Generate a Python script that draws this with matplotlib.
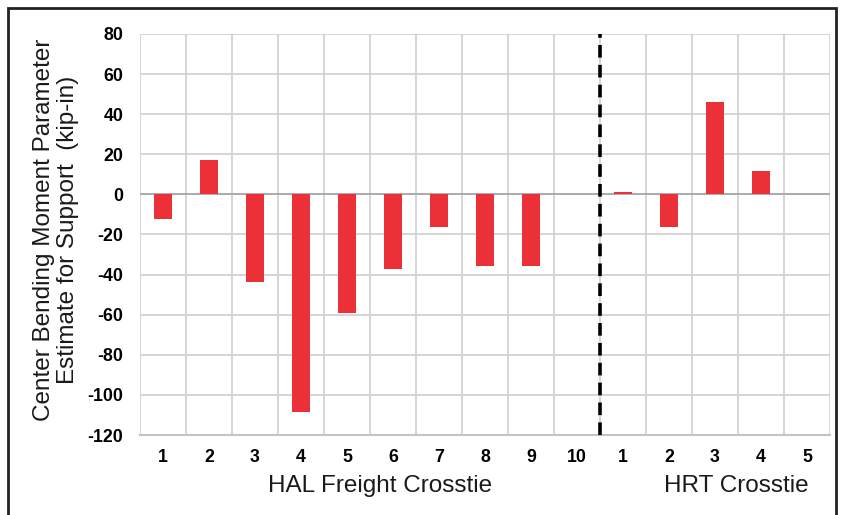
import matplotlib.pyplot as plt
import matplotlib.patches as mpatches
import numpy as np

# Support moment parameter estimates per crosstie
hal_labels = ["1", "2", "3", "4", "5", "6", "7", "8", "9", "10"]
hal_values = [-12.5, 17, -43.5, -108.3, -59, -37.3, -16.5, -35.8, -35.8, 0]
hrt_labels = ["1", "2", "3", "4", "5"]
hrt_values = [1, -16.2, 46.3, 11.9, 0]
yticks = [80, 60, 40, 20, 0, -20, -40, -60, -80, -100, -120]

labels = hal_labels + hrt_labels
values = hal_values + hrt_values
x = np.arange(len(values))

bold_font = ["Liberation Sans", "DejaVu Sans"]
reg_font = ["Liberation Sans", "DejaVu Sans"]

fig = plt.figure(figsize=(8.41, 5.15), dpi=100)
ax = fig.add_axes([140 / 841, 1 - 435 / 515, 690 / 841, 401 / 515])

ax.bar(x, values, width=0.4, color="#EC3038", zorder=3)

ax.set_xlim(-0.5, len(values) - 0.5)
ax.set_ylim(-120, 80)
ax.set_yticks(yticks)
ax.set_yticklabels([str(v) for v in yticks], fontsize=12.8, fontweight="bold", family=bold_font)
ax.set_xticks(x)
ax.set_xticklabels(labels, fontsize=12.8, fontweight="bold", family=bold_font)
ax.set_xticks(np.arange(-0.5, len(values)), minor=True)
ax.tick_params(axis="both", which="both", length=0)
ax.tick_params(axis="x", pad=10)
ax.tick_params(axis="y", pad=12)

ax.grid(True, axis="y", which="major", color="#d2d2d2", lw=1.3, zorder=0)
ax.grid(True, axis="x", which="minor", color="#d2d2d2", lw=1.3, zorder=0)
ax.grid(False, axis="x", which="major")
ax.axhline(0, color="#a8a8a8", lw=1.3, zorder=2)
for s in ax.spines.values():
    s.set_visible(False)
ax.axhline(-120, color="#c4c4c4", lw=1.5, zorder=2, clip_on=False)

# Separator between the two crosstie groups
ax.axvline(len(hal_values) - 0.5, color="black", lw=2.6, ls=(0, (3.5, 2)), zorder=4)

# Group captions
fig.text(380 / 841, 1 - 486 / 515, "HAL Freight Crosstie", ha="center", va="center",
         fontsize=17.5, family=reg_font, color="#1a1a1a")
fig.text(736 / 841, 1 - 486 / 515, "HRT Crosstie", ha="center", va="center",
         fontsize=17.5, family=reg_font, color="#1a1a1a")

# Y axis title
fig.text(56 / 841, 1 - 230 / 515, "Center Bending Moment Parameter\nEstimate for Support  (kip-in)",
         rotation=90, ha="center", va="center", fontsize=17.5, family=reg_font,
         linespacing=1.15, color="#1a1a1a")

# Outer frame
fig.patches.append(mpatches.Rectangle((8 / 841, -0.05), 828 / 841, 1.05 - 8 / 515,
                                      transform=fig.transFigure, fill=False,
                                      edgecolor="#222222", lw=2))

fig.savefig("out.png", dpi=100)
